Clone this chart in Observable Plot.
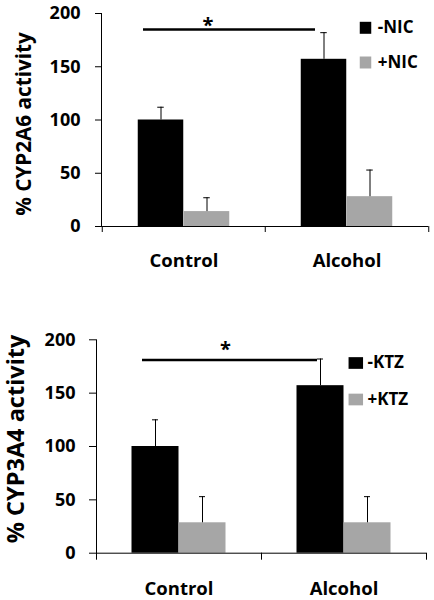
<!DOCTYPE html>
<html><head><meta charset="utf-8">
<script src="https://cdn.jsdelivr.net/npm/d3@7"></script>
<script src="https://cdn.jsdelivr.net/npm/@observablehq/plot@0.6"></script>
<style>
body{margin:0;background:#fff;}
#charts svg{display:block;}
</style></head><body><div id="charts"></div>
<script>
// ---- data ----
const categories = ["Control", "Alcohol"];
const yTicks = [0, 50, 100, 150, 200];

// Panel A: CYP2A6
const seriesA = ["-NIC", "+NIC"];
const meanA_minus = [100, 157];
const meanA_plus = [14, 28];
const errA_minus = [12, 25];
const errA_plus = [13, 25];
const labelA = "% CYP2A6 activity";
const sigLevelA = 185;

// Panel B: CYP3A4
const seriesB = ["-KTZ", "+KTZ"];
const meanB_minus = [100, 157];
const meanB_plus = [28.5, 28.5];
const errB_minus = [25, 25];
const errB_plus = [24.5, 24.5];
const labelB = "% CYP3A4 activity";
const sigLevelB = 181;

const sigMark = "*";
const colors = ["#000000", "#a6a6a6"];
const FONT = "'Open Sans', Lato, sans-serif";
const WEIGHT = "bold";

function rectSymbol(w, h) {
  return {draw(ctx) { ctx.rect(-w / 2, -h / 2, w, h); }};
}

function panel(cfg) {
  const W = 434, H = 300;
  const rows = [];
  cfg.series.forEach((s, si) => categories.forEach((c, ci) =>
    rows.push({cat: c, series: s, si, value: cfg.means[si][ci], err: cfg.errs[si][ci]})));
  const bandW = (W - cfg.mL - cfg.mR) / categories.length;
  const groupPad = (bandW - cfg.series.length * cfg.barW) / 2;
  const marks = [];
  cfg.series.forEach((s, si) => {
    const d = rows.filter(r => r.si === si);
    const left = groupPad + si * cfg.barW;
    const off = left + cfg.barW / 2 - bandW / 2;
    marks.push(Plot.barY(d, {x: "cat", y: "value", fill: colors[si],
      insetLeft: left, insetRight: bandW - left - cfg.barW}));
    marks.push(Plot.ruleX(d, {x: "cat", y1: "value", y2: r => r.value + r.err, dx: off,
      stroke: "#000", strokeWidth: 1}));
    marks.push(Plot.tickY(d, {x: "cat", y: r => r.value + r.err, dx: off,
      insetLeft: (bandW - cfg.capW) / 2, insetRight: (bandW - cfg.capW) / 2,
      stroke: "#000", strokeWidth: 1}));
  });
  // axes
  marks.push(Plot.ruleY([0], {stroke: "#000", strokeWidth: 1}));
  marks.push(Plot.frame({anchor: "left", stroke: "#000", strokeWidth: 1}));
  marks.push(Plot.ruleX(categories, {x: d => d, dx: -bandW / 2, y1: 0, y2: 0,
    insetBottom: -cfg.xTickLen, stroke: "#000"}));
  marks.push(Plot.ruleX([categories[categories.length - 1]], {x: d => d, dx: bandW / 2, y1: 0, y2: 0,
    insetBottom: -cfg.xTickLen, stroke: "#000"}));
  marks.push(Plot.axisY({ticks: yTicks, tickSize: cfg.yTickSize, tickPadding: cfg.yTickPad,
    fontSize: 18, fontWeight: WEIGHT, fontFamily: FONT, label: null, stroke: "#000", fill: "#000"}));
  marks.push(Plot.axisX({tickSize: 0, tickPadding: cfg.xLabelPad, fontSize: 18.5,
    fontWeight: WEIGHT, fontFamily: FONT, label: null, fill: "#000"}));
  // y label
  marks.push(Plot.text([cfg.label], {frameAnchor: "left", rotate: -90, text: d => d,
    textAnchor: "middle", dx: cfg.ylabX - cfg.mL, dy: cfg.ylabDy, fontSize: cfg.ylabSize,
    fontWeight: WEIGHT, fontFamily: FONT, lineAnchor: "middle", fill: "#000"}));
  // significance
  marks.push(Plot.ruleY([cfg.sig], {x1: () => categories[0], x2: () => categories[1],
    insetLeft: cfg.sigInset[0], insetRight: cfg.sigInset[1], stroke: "#000", strokeWidth: 2.5}));
  marks.push(Plot.text([sigMark], {x: () => categories[0], y: () => cfg.sig, text: d => d,
    dx: cfg.starDx, dy: cfg.starDy, lineAnchor: "bottom", fontSize: 20, fontWeight: WEIGHT,
    fontFamily: FONT, fill: "#000"}));
  // legend
  cfg.series.forEach((s, si) => {
    marks.push(Plot.dot([s], {frameAnchor: "top-right", dx: cfg.legDx, dy: cfg.legDy + si * cfg.legGap,
      symbol: rectSymbol(cfg.sqW, cfg.sqH), fill: colors[si], stroke: null}));
    marks.push(Plot.text([s], {frameAnchor: "top-right", text: d => d, dx: cfg.legTextDx,
      dy: cfg.legDy + si * cfg.legGap, textAnchor: "start", lineAnchor: "middle",
      fontSize: 17, fontWeight: WEIGHT, fontFamily: FONT, fill: "#000"}));
  });
  return Plot.plot({
    width: W, height: H,
    marginLeft: cfg.mL, marginRight: cfg.mR, marginTop: cfg.mT, marginBottom: cfg.mB,
    style: {fontFamily: FONT, background: "#fff", color: "#000"},
    x: {domain: categories, padding: 0},
    y: {domain: [0, 200]},
    marks
  });
}

const root = document.getElementById("charts");
root.appendChild(panel({
  series: seriesA, means: [meanA_minus, meanA_plus], errs: [errA_minus, errA_plus],
  label: labelA, sig: sigLevelA,
  mL: 101, mR: 6, mT: 13, mB: 74, barW: 46, capW: 7,
  yTickSize: 6, yTickPad: 15, xLabelPad: 27, xTickLen: 6,
  sigInset: [41, 113], starDx: 24, starDy: 3,
  legDx: -63, legTextDx: -50.7, legDy: 14.3, legGap: 34.7, sqW: 11.5, sqH: 12,
  ylabX: 24, ylabDy: 4, ylabSize: 20.7
}));
root.appendChild(panel({
  series: seriesB, means: [meanB_minus, meanB_plus], errs: [errB_minus, errB_plus],
  label: labelB, sig: sigLevelB,
  mL: 96, mR: 8, mT: 39.3, mB: 47.3, barW: 47, capW: 6,
  yTickSize: 7, yTickPad: 14, xLabelPad: 29, xTickLen: 7,
  sigInset: [46, 109], starDx: 46.5, starDy: -4.5,
  legDx: -70.7, legTextDx: -59, legDy: 23.2, legGap: 36.5, sqW: 14.5, sqH: 11.7,
  ylabX: 16, ylabDy: -7.6, ylabSize: 23.5
}));
</script>
</body></html>
